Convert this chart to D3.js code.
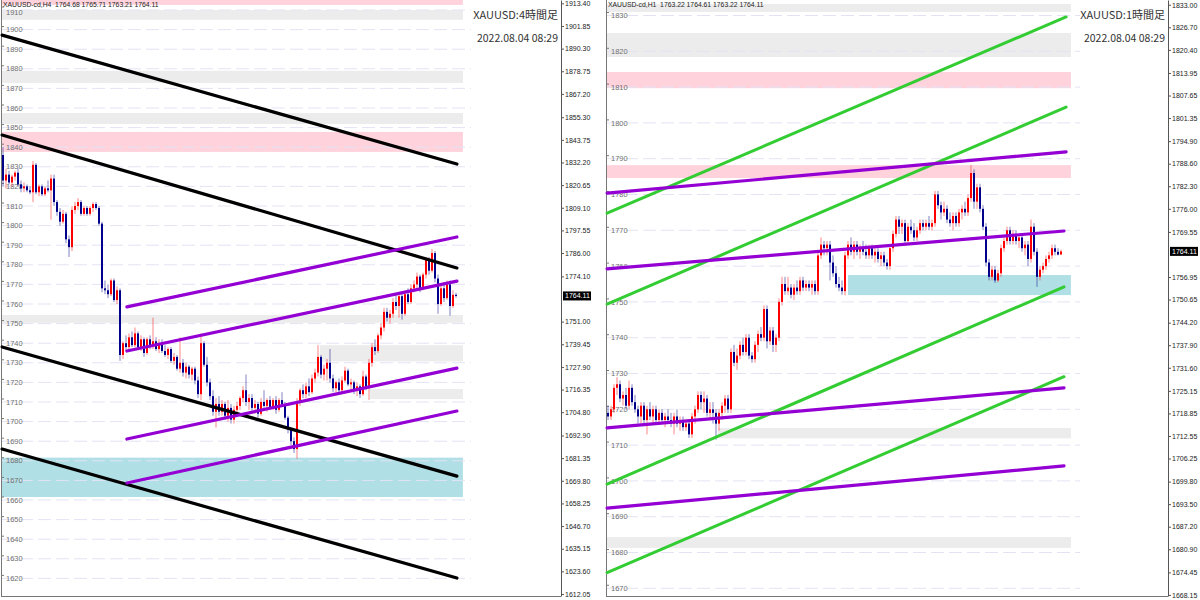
<!DOCTYPE html>
<html>
<head>
<meta charset="utf-8">
<script src="https://cdn.jsdelivr.net/npm/d3@7"></script>
<style>
  body { margin: 0; background: #fff; }
  svg { display: block; }
</style>
</head>
<body>
<svg id="chart" width="1200" height="600"></svg>
<script>
// ---- H4 (left) ----
const h4Open = [
  1836, 1823, 1826, 1822, 1825, 1827, 1821, 1819, 1820, 1818,
  1817, 1831, 1817, 1820, 1816, 1819, 1818, 1824, 1812, 1807,
  1802, 1806, 1793, 1789, 1808, 1810, 1812, 1806, 1809, 1806,
  1809, 1811, 1809, 1801, 1768, 1767, 1765, 1772, 1762, 1767,
  1734, 1740, 1738, 1743, 1739, 1745, 1738, 1742, 1735, 1742,
  1739, 1741, 1737, 1740, 1736, 1734, 1737, 1731, 1733, 1727,
  1730, 1725, 1728, 1724, 1727, 1721, 1714, 1740, 1729, 1720,
  1713, 1705, 1709, 1705, 1709, 1703, 1707, 1701, 1706, 1708,
  1712, 1716, 1710, 1712, 1707, 1709, 1704, 1710, 1708, 1711,
  1707, 1711, 1706, 1711, 1709, 1702, 1696, 1690, 1686, 1710,
  1716, 1714, 1718, 1715, 1722, 1725, 1733, 1724, 1727, 1730,
  1722, 1717, 1720, 1716, 1721, 1726, 1719, 1720, 1716, 1718,
  1714, 1723, 1718, 1730, 1738, 1736, 1744, 1748, 1756, 1753,
  1755, 1761, 1759, 1764, 1755, 1765, 1761, 1768, 1770, 1774,
  1768, 1775, 1783, 1777, 1786, 1773, 1760, 1768, 1763, 1770,
  1759, 1764.68
];
const h4High = [
  1840, 1829, 1828, 1826, 1828, 1829, 1823, 1822, 1821, 1820,
  1833, 1832, 1821, 1821, 1820, 1823, 1826, 1826, 1813, 1809,
  1808, 1807, 1795, 1810, 1812, 1814, 1813, 1810, 1810, 1810,
  1812, 1812, 1810, 1802, 1772, 1770, 1773, 1773, 1769, 1768,
  1741, 1744, 1745, 1746, 1748, 1746, 1744, 1743, 1743, 1744,
  1753, 1743, 1742, 1742, 1739, 1738, 1738, 1735, 1734, 1743,
  1732, 1730, 1729, 1728, 1728, 1723, 1745, 1741, 1733, 1722,
  1716, 1712, 1713, 1711, 1710, 1711, 1709, 1708, 1710, 1713,
  1718, 1724, 1714, 1714, 1711, 1710, 1712, 1716, 1712, 1713,
  1712, 1713, 1712, 1715, 1710, 1703, 1697, 1692, 1712, 1717,
  1719, 1720, 1722, 1724, 1727, 1739, 1734, 1729, 1732, 1737,
  1724, 1721, 1722, 1723, 1728, 1727, 1722, 1721, 1720, 1719,
  1726, 1724, 1732, 1740, 1742, 1745, 1750, 1758, 1758, 1757,
  1763, 1765, 1766, 1766, 1767, 1768, 1770, 1772, 1776, 1775,
  1776, 1784, 1784, 1788, 1787, 1775, 1770, 1771, 1772, 1772,
  1767, 1765.71
];
const h4Low = [
  1820, 1819, 1821, 1820, 1823, 1820, 1817, 1817, 1817, 1816,
  1812, 1816, 1815, 1815, 1815, 1817, 1803, 1810, 1805, 1800,
  1801, 1791, 1784, 1787, 1806, 1808, 1805, 1805, 1805, 1805,
  1807, 1808, 1800, 1766, 1765, 1763, 1764, 1761, 1760, 1731,
  1732, 1736, 1736, 1738, 1738, 1737, 1736, 1733, 1734, 1737,
  1737, 1736, 1735, 1735, 1733, 1732, 1730, 1729, 1726, 1725,
  1723, 1722, 1722, 1721, 1719, 1712, 1711, 1728, 1718, 1711,
  1703, 1697, 1703, 1703, 1701, 1700, 1699, 1699, 1704, 1706,
  1710, 1708, 1706, 1705, 1704, 1702, 1703, 1707, 1705, 1706,
  1706, 1704, 1705, 1708, 1701, 1694, 1688, 1684, 1681, 1708,
  1712, 1712, 1713, 1714, 1720, 1723, 1722, 1721, 1721, 1720,
  1715, 1715, 1714, 1715, 1720, 1718, 1716, 1714, 1713, 1712,
  1713, 1716, 1711, 1728, 1734, 1735, 1742, 1746, 1751, 1750,
  1753, 1757, 1753, 1752, 1754, 1760, 1760, 1766, 1768, 1766,
  1767, 1773, 1775, 1776, 1771, 1755, 1759, 1761, 1762, 1754,
  1758, 1763.21
];
const h4Close = [
  1823, 1826, 1822, 1825, 1827, 1821, 1819, 1820, 1818, 1817,
  1831, 1817, 1820, 1816, 1819, 1818, 1824, 1812, 1807, 1802,
  1806, 1793, 1789, 1808, 1810, 1812, 1806, 1809, 1806, 1809,
  1811, 1809, 1801, 1768, 1767, 1765, 1772, 1762, 1767, 1734,
  1740, 1738, 1743, 1739, 1745, 1738, 1742, 1735, 1742, 1739,
  1741, 1737, 1740, 1736, 1734, 1737, 1731, 1733, 1727, 1730,
  1725, 1728, 1724, 1727, 1721, 1714, 1740, 1729, 1720, 1713,
  1705, 1709, 1705, 1709, 1703, 1707, 1701, 1706, 1708, 1712,
  1716, 1710, 1712, 1707, 1709, 1704, 1710, 1708, 1711, 1707,
  1711, 1706, 1711, 1709, 1702, 1696, 1690, 1686, 1710, 1716,
  1714, 1718, 1715, 1722, 1725, 1733, 1724, 1727, 1730, 1722,
  1717, 1720, 1716, 1721, 1726, 1719, 1720, 1716, 1718, 1714,
  1723, 1718, 1730, 1738, 1736, 1744, 1748, 1756, 1753, 1755,
  1761, 1759, 1764, 1755, 1765, 1761, 1768, 1770, 1774, 1768,
  1775, 1783, 1777, 1786, 1773, 1760, 1768, 1763, 1770, 1759,
  1764.68, 1764.11
];
// the label under the price tag (1762.55) is hidden in the original
const h4Ticks = [
  1913.40, 1901.85, 1890.30, 1878.75, 1867.20, 1855.30, 1843.75, 1832.20, 1820.65,
  1809.10, 1797.55, 1786.00, 1774.10, 1751.00, 1739.45, 1727.90, 1716.35,
  1704.80, 1692.90, 1681.35, 1669.80, 1658.25, 1646.70, 1635.15, 1623.60, 1612.05
];
const h4Levels = [
  1910, 1900, 1890, 1880, 1870, 1860, 1850, 1840, 1830, 1820, 1810, 1800, 1790, 1780, 1770,
  1760, 1750, 1740, 1730, 1720, 1710, 1700, 1690, 1680, 1670, 1660, 1650, 1640, 1630, 1620
];
// zones: [from bar, to bar, top price, bottom price]
const h4PinkZones = [[-0.5, 153.3, 1916, 1912.6], [-0.5, 153.3, 1847.8, 1837.6]];
const h4GrayZones = [
  [-0.5, 153.3, 1910, 1905], [-0.5, 153.3, 1879, 1872.8], [-0.5, 153.3, 1857.4, 1851.8],
  [-0.5, 153.3, 1754.4, 1750.4], [105.7, 153.3, 1739, 1730.7], [122.3, 153.3, 1716.6, 1711.5]
];
const h4CyanZones = [[-0.5, 153.3, 1681.6, 1661.5]];
// lines: [bar1, price1, bar2, price2]
const h4BlackLines = [
  [-0.3, 1897.2, 151.3, 1831.4], [-0.3, 1846.2, 151.3, 1778.4],
  [-0.3, 1738.1, 151.3, 1672.2], [-0.3, 1686.0, 151.3, 1620.2]
];
const h4PurpleLines = [
  [41.3, 1758.5, 151.3, 1794.2], [41.3, 1736.0, 151.3, 1771.7],
  [41.3, 1691.1, 151.3, 1727.3], [41.3, 1668.7, 151.3, 1705.4]
];

// ---- H1 (right) ----
const h1Open = [
  1719, 1718, 1720, 1726, 1727, 1723, 1724, 1721, 1726, 1722,
  1720, 1718, 1721, 1717, 1720, 1718, 1720, 1717, 1719, 1717,
  1718, 1717, 1716, 1718, 1716, 1717, 1715, 1716, 1713, 1718,
  1720, 1724, 1722, 1723, 1719, 1720, 1719, 1716, 1719, 1721,
  1723, 1720, 1736, 1733, 1735, 1738, 1736, 1740, 1735, 1734,
  1738, 1741, 1740, 1748, 1739, 1742, 1738, 1740, 1750, 1755,
  1753, 1754, 1752, 1754, 1753, 1756, 1754, 1755, 1754, 1755,
  1753, 1763, 1766, 1765, 1766, 1761, 1758, 1755, 1754, 1753,
  1763, 1766, 1764, 1766, 1764, 1765, 1764, 1763, 1765, 1763,
  1764, 1762, 1763, 1761, 1760, 1765, 1769, 1773, 1771, 1772,
  1767, 1771, 1770, 1768, 1770, 1772, 1771, 1772, 1771, 1772,
  1780, 1777, 1775, 1776, 1773, 1772, 1774, 1772, 1775, 1776,
  1775, 1779, 1786, 1778, 1782, 1776, 1771, 1761, 1757, 1759,
  1756, 1758, 1765, 1767, 1770, 1767, 1769, 1767, 1768, 1765,
  1766, 1762, 1771, 1764, 1757, 1759, 1760, 1762, 1763, 1765,
  1764, 1763.22
];
const h1High = [
  1721, 1721, 1727, 1729, 1728, 1725, 1726, 1728, 1727, 1724,
  1721, 1722, 1722, 1721, 1722, 1721, 1721, 1720, 1720, 1719,
  1720, 1719, 1719, 1720, 1718, 1718, 1717, 1717, 1719, 1721,
  1725, 1725, 1725, 1724, 1722, 1722, 1720, 1720, 1722, 1724,
  1724, 1737, 1738, 1737, 1739, 1740, 1741, 1741, 1736, 1739,
  1742, 1743, 1749, 1749, 1743, 1743, 1741, 1751, 1757, 1757,
  1757, 1755, 1755, 1756, 1757, 1757, 1756, 1756, 1756, 1756,
  1764, 1768, 1767, 1767, 1767, 1763, 1760, 1757, 1756, 1764,
  1767, 1768, 1767, 1767, 1766, 1767, 1766, 1766, 1766, 1765,
  1765, 1764, 1764, 1762, 1766, 1770, 1774, 1774, 1773, 1773,
  1772, 1773, 1772, 1771, 1773, 1773, 1773, 1774, 1773, 1781,
  1781, 1778, 1778, 1777, 1775, 1775, 1775, 1776, 1777, 1778,
  1780, 1788.3, 1787, 1783, 1783, 1777, 1772, 1762, 1760, 1760,
  1759, 1766, 1768, 1771, 1771, 1770, 1770, 1769, 1769, 1767,
  1767, 1773, 1772, 1765, 1760, 1761, 1763, 1764, 1766, 1766,
  1765, 1764.61
];
const h1Low = [
  1717, 1717, 1719, 1724, 1722, 1721, 1720, 1720, 1721, 1719,
  1716, 1716, 1716, 1713, 1717, 1716, 1716, 1716, 1716, 1715,
  1716, 1715, 1713, 1715, 1714, 1714, 1714, 1712, 1712, 1716,
  1719, 1720, 1719, 1718, 1717, 1716, 1711.5, 1714, 1717, 1719,
  1719, 1719, 1732, 1731, 1734, 1735, 1735, 1734, 1733, 1733,
  1736, 1739, 1739, 1737, 1738, 1736, 1736, 1739, 1749, 1752,
  1752, 1751, 1750.5, 1752, 1752, 1753, 1753, 1753, 1752, 1752,
  1752, 1762, 1763, 1763, 1756, 1757, 1754, 1753, 1752, 1751.8,
  1762, 1763, 1762, 1763, 1762, 1763, 1762, 1762, 1762, 1761,
  1761, 1760, 1760, 1759, 1759, 1764, 1768, 1769, 1769, 1766,
  1766, 1769, 1767, 1767, 1769, 1770, 1770, 1770, 1770, 1771,
  1776, 1773, 1774, 1772, 1771, 1770, 1771, 1771, 1773, 1774,
  1774, 1778, 1776, 1776, 1775, 1770, 1760, 1756, 1756, 1755.3,
  1755.5, 1757, 1764, 1766, 1766, 1766, 1766, 1765, 1764, 1763,
  1760, 1761, 1763, 1754.2, 1756, 1758, 1759, 1761, 1762, 1763,
  1763, 1763.22
];
const h1Close = [
  1718, 1720, 1726, 1727, 1723, 1724, 1721, 1726, 1722, 1720,
  1718, 1721, 1717, 1720, 1718, 1720, 1717, 1719, 1717, 1718,
  1717, 1716, 1718, 1716, 1717, 1715, 1716, 1713, 1718, 1720,
  1724, 1722, 1723, 1719, 1720, 1719, 1716, 1719, 1721, 1723,
  1720, 1736, 1733, 1735, 1738, 1736, 1740, 1735, 1734, 1738,
  1741, 1740, 1748, 1739, 1742, 1738, 1740, 1750, 1755, 1753,
  1754, 1752, 1754, 1753, 1756, 1754, 1755, 1754, 1755, 1753,
  1763, 1766, 1765, 1766, 1761, 1758, 1755, 1754, 1753, 1763,
  1766, 1764, 1766, 1764, 1765, 1764, 1763, 1765, 1763, 1764,
  1762, 1763, 1761, 1760, 1765, 1769, 1773, 1771, 1772, 1767,
  1771, 1770, 1768, 1770, 1772, 1771, 1772, 1771, 1772, 1780,
  1777, 1775, 1776, 1773, 1772, 1774, 1772, 1775, 1776, 1775,
  1779, 1786, 1778, 1782, 1776, 1771, 1761, 1757, 1759, 1756,
  1758, 1765, 1767, 1770, 1767, 1769, 1767, 1768, 1765, 1766,
  1762, 1771, 1764, 1757, 1759, 1760, 1762, 1763, 1765, 1764,
  1763.22, 1764.11
];
// 1763.25 sits under the price tag, left out
const h1Ticks = [
  1833.00, 1826.70, 1820.40, 1813.95, 1807.65, 1801.35, 1794.90, 1788.60, 1782.30,
  1776.00, 1769.55, 1756.95, 1750.65, 1744.20, 1737.90, 1731.60, 1725.15,
  1718.85, 1712.55, 1706.25, 1699.80, 1693.50, 1687.20, 1680.90, 1674.45, 1668.15
];
const h1Levels = [
  1830, 1820, 1810, 1800, 1790, 1780, 1770, 1760, 1750, 1740,
  1730, 1720, 1710, 1700, 1690, 1680, 1670
];
const h1PinkZones = [[-0.5, 154.3, 1814.2, 1809.7], [-0.5, 154.3, 1788.2, 1784.6]];
const h1GrayZones = [
  [-0.5, 154.3, 1833.2, 1831.0], [-0.5, 154.3, 1825.1, 1818.4],
  [36.7, 154.3, 1714.8, 1711.9], [-0.5, 154.3, 1684.3, 1681.3]
];
const h1CyanZones = [[80, 154.3, 1757.5, 1751.9]];
const h1GreenLines = [
  [-0.3, 1774.8, 152.7, 1829.6], [-0.3, 1749.4, 152.7, 1804.4],
  [-0.3, 1699.1, 152, 1754.2], [-0.3, 1674.4, 152, 1729.1]
];
const h1PurpleLines = [
  [-0.3, 1780.4, 152.7, 1791.9], [-0.3, 1759.2, 152, 1769.8],
  [-0.3, 1714.8, 152, 1726.0], [-0.3, 1692.4, 152, 1704.2]
];

const stamp = "2022.08.04 08:29";

const svg = d3.select("#chart");
const smallFont = "'Liberation Sans', Arial, sans-serif";
const jpFont = "'Noto Sans CJK JP', 'Noto Sans', sans-serif";
const fmt = d3.format(".2f");

function drawPanel(cfg) {
  const g = svg.append("g");
  const n = cfg.open.length;
  const x = d3.scaleLinear().domain([0, n - 1]).range([cfg.firstBarX, cfg.lastBarX]);
  const y = d3.scaleLinear().domain(cfg.priceDomain).range(cfg.pixelRange);

  //zones go first, candles sit on them
  function zones(list, color) {
    g.selectAll(null)
      .data(list)
      .enter()
      .append("rect")
      .attr("x", (d) => Math.max(cfg.left, x(d[0])))
      .attr("width", (d) => x(d[1]) - Math.max(cfg.left, x(d[0])))
      .attr("y", (d) => Math.max(0, y(d[2])))
      .attr("height", (d) => y(d[3]) - Math.max(0, y(d[2])))
      .attr("fill", color);
  }
  zones(cfg.grayZones, "#ececec");
  zones(cfg.pinkZones, "#ffd2dc");
  zones(cfg.cyanZones, "#b0dfe5");

  //dashed level lines with their labels
  g.selectAll(null)
    .data(cfg.levels)
    .enter()
    .append("line")
    .attr("x1", cfg.left)
    .attr("x2", cfg.gridEnd)
    .attr("y1", (d) => y(d))
    .attr("y2", (d) => y(d))
    .attr("stroke", "#e3e3f4")
    .attr("stroke-width", 1)
    .attr("stroke-dasharray", "13,5");

  g.selectAll(null)
    .data(cfg.levels)
    .enter()
    .append("text")
    .attr("x", cfg.left + 4)
    .attr("y", (d) => Math.max(y(d), 12))
    .attr("dy", "0.35em")
    .attr("font-family", smallFont)
    .attr("font-size", 7.5)
    .attr("fill", "#707070")
    .text((d) => d);

  // left frame with small marks
  g.append("line")
    .attr("x1", cfg.left - 0.5)
    .attr("x2", cfg.left - 0.5)
    .attr("y1", 0)
    .attr("y2", cfg.bottom)
    .attr("stroke", "#777");
  g.selectAll(null)
    .data(cfg.levels)
    .enter()
    .append("line")
    .attr("x1", cfg.left)
    .attr("x2", cfg.left + 2)
    .attr("y1", (d) => y(d) - 3)
    .attr("y2", (d) => y(d) - 3)
    .attr("stroke", "#777");

  //candles
  const bars = d3.range(n);
  const up = (i) => cfg.close[i] >= cfg.open[i];
  g.selectAll(null)
    .data(bars)
    .enter()
    .append("line")
    .attr("x1", (i) => x(i))
    .attr("x2", (i) => x(i))
    .attr("y1", (i) => y(cfg.high[i]))
    .attr("y2", (i) => y(cfg.low[i]))
    .attr("stroke", (i) => (up(i) ? "#ff2020" : "#1a1a90"))
    .attr("stroke-opacity", 0.55)
    .attr("stroke-width", 1);
  g.selectAll(null)
    .data(bars)
    .enter()
    .append("rect")
    .attr("x", (i) => x(i) - 1)
    .attr("width", 2)
    .attr("y", (i) => y(Math.max(cfg.open[i], cfg.close[i])))
    .attr("height", (i) =>
      Math.max(1, Math.abs(y(cfg.open[i]) - y(cfg.close[i])))
    )
    .attr("fill", (i) => (up(i) ? "#ff0000" : "#00008b"));

  //trend lines
  cfg.lines.forEach((set) => {
    g.selectAll(null)
      .data(set.data)
      .enter()
      .append("line")
      .attr("x1", (d) => x(d[0]))
      .attr("y1", (d) => y(d[1]))
      .attr("x2", (d) => x(d[2]))
      .attr("y2", (d) => y(d[3]))
      .attr("stroke", set.color)
      .attr("stroke-width", set.width)
      .attr("stroke-linecap", "round");
  });

  //price axis on the right
  const axisScale = d3
    .scaleLinear()
    .domain([y.invert(0), y.invert(cfg.bottom)])
    .range([0, cfg.bottom]);
  g.append("g")
    .attr("transform", `translate(${cfg.axisX},0)`)
    .call(
      d3
        .axisRight(axisScale)
        .tickValues(cfg.ticks)
        .tickFormat(fmt)
        .tickSize(3)
        .tickSizeOuter(0)
        .tickPadding(1)
    )
    .call((a) => a.select(".domain").attr("stroke", "#555"))
    .call((a) => a.selectAll(".tick line").attr("stroke", "#555"))
    .call((a) =>
      a
        .selectAll("text")
        .attr("font-family", smallFont)
        .attr("font-size", 7)
        .attr("fill", "#222")
    );

  // bottom frame
  g.append("line")
    .attr("x1", cfg.left - 1)
    .attr("x2", cfg.axisX)
    .attr("y1", cfg.bottom + 0.5)
    .attr("y2", cfg.bottom + 0.5)
    .attr("stroke", "#777");

  //current price tag
  const last = cfg.close[n - 1];
  g.append("rect")
    .attr("x", cfg.axisX + 2)
    .attr("y", y(last) - 4.5)
    .attr("width", 28)
    .attr("height", 9)
    .attr("fill", "#000");
  g.append("text")
    .attr("x", cfg.axisX + 4)
    .attr("y", y(last))
    .attr("dy", "0.35em")
    .attr("font-family", smallFont)
    .attr("font-size", 7)
    .attr("fill", "#fff")
    .text(fmt(last));

  //header: symbol and last OHLC
  g.append("text")
    .attr("x", cfg.left + 1)
    .attr("y", 7)
    .attr("font-family", smallFont)
    .attr("font-size", 6.8)
    .attr("fill", "#222")
    .attr("xml:space", "preserve")
    .text(
      `${cfg.symbol}  ${fmt(cfg.open[n - 1])} ${fmt(cfg.high[n - 1])} ${fmt(
        cfg.low[n - 1]
      )} ${fmt(last)}`
    );

  //title block top right
  g.append("text")
    .attr("x", cfg.titleX)
    .attr("y", 19)
    .attr("text-anchor", "end")
    .attr("font-family", jpFont)
    .attr("font-size", 11)
    .attr("fill", "#333")
    .text(cfg.title);
  g.append("text")
    .attr("x", cfg.titleX)
    .attr("y", 42)
    .attr("text-anchor", "end")
    .attr("font-family", jpFont)
    .attr("font-size", 10.5)
    .attr("fill", "#333")
    .text(stamp);
}

drawPanel({
  open: h4Open,
  high: h4High,
  low: h4Low,
  close: h4Close,
  ticks: h4Ticks,
  levels: h4Levels,
  grayZones: h4GrayZones,
  pinkZones: h4PinkZones,
  cyanZones: h4CyanZones,
  lines: [
    { data: h4BlackLines, color: "#000", width: 3.2 },
    { data: h4PurpleLines, color: "#9400d3", width: 3.2 },
  ],
  priceDomain: [1910, 1620],
  pixelRange: [10, 578.4],
  firstBarX: 3,
  lastBarX: 456,
  left: 2,
  gridEnd: 471,
  axisX: 561,
  bottom: 596,
  titleX: 558,
  symbol: "XAUUSD-cd,H4",
  title: "XAUUSD:4時間足",
});

drawPanel({
  open: h1Open,
  high: h1High,
  low: h1Low,
  close: h1Close,
  ticks: h1Ticks,
  levels: h1Levels,
  grayZones: h1GrayZones,
  pinkZones: h1PinkZones,
  cyanZones: h1CyanZones,
  lines: [
    { data: h1GreenLines, color: "#33cc33", width: 3 },
    { data: h1PurpleLines, color: "#9400d3", width: 3.2 },
  ],
  priceDomain: [1830, 1670],
  pixelRange: [15.5, 588.3],
  firstBarX: 608,
  lastBarX: 1061,
  left: 607,
  gridEnd: 1080,
  axisX: 1168,
  bottom: 596,
  titleX: 1165,
  symbol: "XAUUSD-cd,H1",
  title: "XAUUSD:1時間足",
});
</script>
</body>
</html>
